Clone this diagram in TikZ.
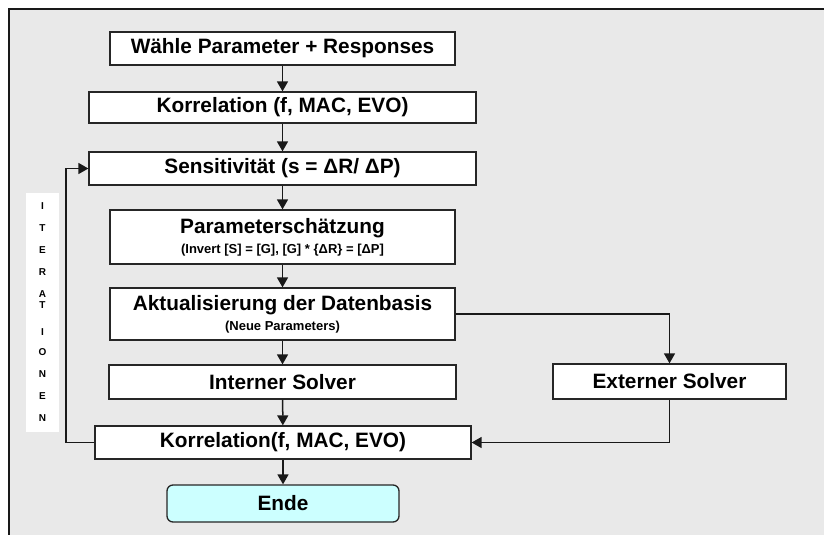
\documentclass[tikz,border=0pt]{standalone}
\usepackage{fontspec}
\setmainfont{Liberation Sans}
\usepackage{xcolor}
\usetikzlibrary{arrows.meta, calc}
\definecolor{framegray}{RGB}{233,233,233}
\definecolor{endcyan}{RGB}{204,255,255}
\newcommand{\smalltxt}{\fontsize{13}{15}\selectfont}

\begin{document}
\begin{tikzpicture}[x=1pt, y=-1pt, >={Triangle[length=10pt,width=11pt]},
        stepbox/.style={draw=black!85, line width=1.3pt, fill=white, minimum height=33pt, align=center, font=\fontsize{20.8}{24}\selectfont\bfseries, inner sep=0pt},
        endbox/.style={stepbox, fill=endcyan, rounded corners=6pt},
        flow/.style={->, line width=1.5pt, black!90}]

        % Frame
        \useasboundingbox (0,0) rectangle (824,535);
        \clip (0,0) rectangle (824,535);
        \fill[framegray] (9,9) rectangle (830,540);
        \draw[line width=2pt, black!90] (9,540) -- (9,9) -- (830,9);

        % Iteration label
        \node[fill=white, minimum width=33pt, minimum height=239pt, align=center, inner sep=0pt, font=\fontsize{10}{22}\selectfont\bfseries] (iter) at (42.5,312.5)
            {I\\T\\E\\R\\A\\[-11pt]T\\[5pt]I\\[-2pt]O\\N\\E\\N};

        % Main column
        \node[stepbox, minimum width=345pt] (wahl) at (282.5,48.5) {Wähle Parameter + Responses};
        \node[stepbox, minimum width=387pt, minimum height=31pt] (korr) at (282.5,107.5) {Korrelation (f, MAC, EVO)};
        \node[stepbox, minimum width=387pt] (sens) at (282.5,168.5) {Sensitivität (s = ΔR/ ΔP)};
        \node[stepbox, minimum width=345pt, minimum height=54pt] (schaetz) at (282.5,237)
            {Parameterschätzung\\[-4pt]{\smalltxt (Invert [S] = [G], [G] * \{ΔR\} = [ΔP]}};
        \node[stepbox, minimum width=345pt, minimum height=52pt] (aktual) at (282.5,314)
            {Aktualisierung der Datenbasis\\[-4pt]{\smalltxt (Neue Parameters)}};
        \node[stepbox, minimum width=347pt, minimum height=34pt] (intern) at (282.5,382) {Interner Solver};
        \node[stepbox, minimum width=233pt, minimum height=35pt] (extern) at (669.5,381.5) {Externer Solver};
        \node[stepbox, minimum width=376pt] (korrend) at (283,442.5) {Korrelation(f, MAC, EVO)};
        \node[endbox, minimum width=232pt, minimum height=37pt] (ende) at (283,503.5) {Ende};

        % Loop
        \coordinate (iterline) at (66,300);

        % Arrows
        \draw[flow] (wahl) -- (korr);
        \draw[flow] (korr) -- (sens);
        \draw[flow] (sens) -- (schaetz);
        \draw[flow] (schaetz) -- (aktual);
        \draw[flow] (aktual) -- (intern);
        \draw[flow] (intern) -- (korrend);
        \draw[flow] (korrend) -- (ende);
        \draw[flow] (aktual.east) -| (extern.north);
        \draw[flow] (extern.south) |- (korrend.east);
        \draw[flow] (korrend.west) -| (iterline) |- (sens.west);
\end{tikzpicture}
\end{document}
